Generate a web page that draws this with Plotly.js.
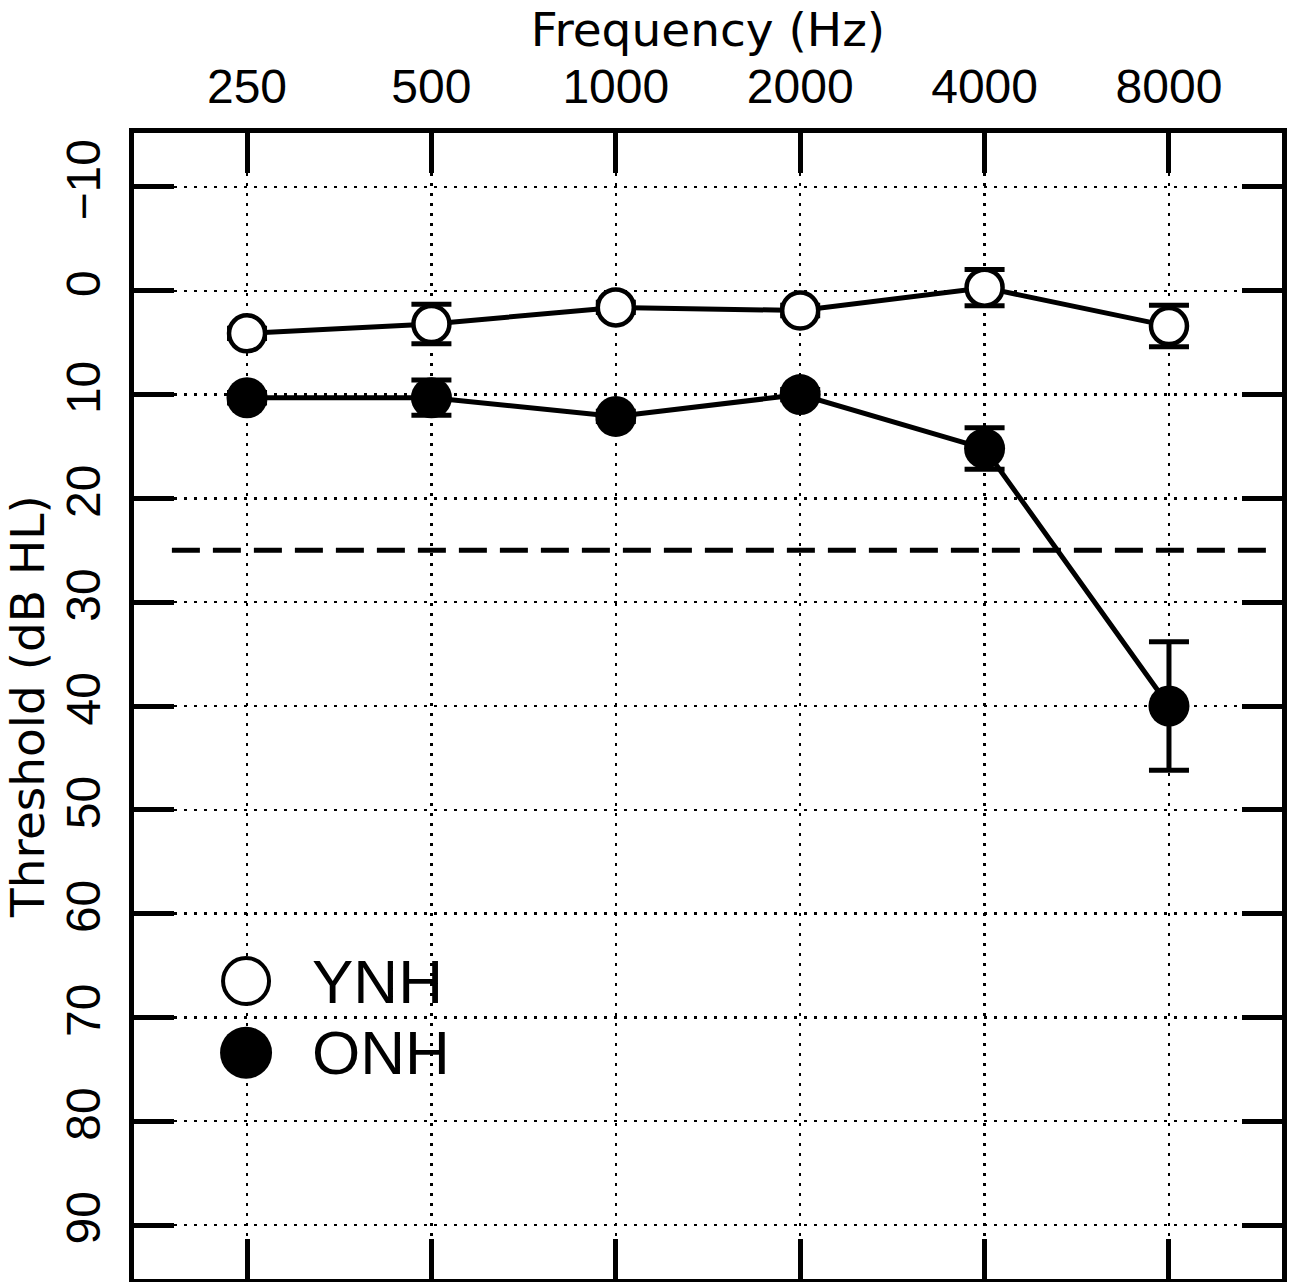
<!DOCTYPE html>
<html>
<head>
<meta charset="utf-8">
<script src="https://cdn.plot.ly/plotly-3.0.1.min.js"></script>
<style>
html,body{margin:0;padding:0;background:#ffffff;}
#chart{width:1291px;height:1282px;}
</style>
</head>
<body>
<div id="chart"></div>
<script>
// ---- data ----
const frequencies = [250, 500, 1000, 2000, 4000, 8000];
const freqTickLabels = ['250', '500', '1000', '2000', '4000', '8000'];
const ynhThreshold = [4.1, 3.2, 1.6, 1.9, -0.3, 3.4];
const ynhError = [0.5, 1.9, 0.5, 0.5, 1.75, 2.0];
const onhThreshold = [10.3, 10.3, 12.1, 10.0, 15.2, 40.0];
const onhError = [0.5, 1.7, 0.5, 0.5, 2.0, 6.2];
const thresholdTicks = [-10, 0, 10, 20, 30, 40, 50, 60, 70, 80, 90];
const normalLimit = 25;
const groupNames = ['YNH', 'ONH'];
const legendRows = [66.5, 73.4];

// ---- drawing ----
const octave = Math.log10(2);
const pad = 0.613 * octave;
const xRange = [Math.log10(frequencies[0]) - pad, Math.log10(frequencies[frequencies.length - 1]) + pad];

const tickFont = {family: 'Liberation Sans, Arial, sans-serif', size: 48, color: '#000'};
const titleFont = {family: 'DejaVu Sans, sans-serif', size: 47, color: '#000'};

const commonAxis = {
  ticks: 'inside', ticklen: 40, tickwidth: 5, tickcolor: '#000',
  showline: true, linewidth: 5, linecolor: '#000', mirror: 'allticks',
  showgrid: true, gridcolor: '#000', gridwidth: 2.5, griddash: '2.5px,7.5px',
  zeroline: false, tickfont: tickFont, automargin: false
};

const traces = [
  {
    name: groupNames[0], x: frequencies, y: ynhThreshold, type: 'scatter', mode: 'lines+markers',
    line: {color: '#000', width: 5},
    marker: {symbol: 'circle', size: 36, color: '#fff', line: {color: '#000', width: 4.5}},
    error_y: {type: 'data', array: ynhError, visible: true, color: '#000', thickness: 5, width: 20},
    showlegend: false
  },
  {
    name: groupNames[1], x: frequencies, y: onhThreshold, type: 'scatter', mode: 'lines+markers',
    line: {color: '#000', width: 5},
    marker: {symbol: 'circle', size: 41, color: '#000', line: {color: '#000', width: 0}},
    error_y: {type: 'data', array: onhError, visible: true, color: '#000', thickness: 5, width: 20},
    showlegend: false
  }
];

const legendX = 0.0976;
const legendTextX = 0.153;

const layout = {
  width: 1291, height: 1282,
  margin: {l: 134, r: 9, t: 133, b: 3, pad: 0},
  paper_bgcolor: '#fff', plot_bgcolor: '#fff',
  showlegend: false,
  xaxis: Object.assign({}, commonAxis, {
    type: 'log', side: 'top', range: xRange,
    tickmode: 'array', tickvals: frequencies, ticktext: freqTickLabels,
    ticklabelstandoff: 6,
    title: {text: 'Frequency (Hz)', font: titleFont, standoff: 0}
  }),
  yaxis: Object.assign({}, commonAxis, {
    range: [95.2, -15.2], tickmode: 'array', tickvals: thresholdTicks, tickangle: -90,
    ticklabelstandoff: 10,
    title: {text: 'Threshold (dB HL)', font: titleFont, standoff: 0}
  }),
  shapes: [
    {type: 'line', xref: 'paper', yref: 'y', x0: 0.033, x1: 0.9895, y0: normalLimit, y1: normalLimit,
     line: {color: '#000', width: 5, dash: '28px,13px'}},
    {type: 'circle', xref: 'paper', yref: 'y', xsizemode: 'pixel', ysizemode: 'pixel',
     xanchor: legendX, yanchor: legendRows[0], x0: -23, x1: 23, y0: -23, y1: 23,
     fillcolor: '#fff', line: {color: '#000', width: 4}},
    {type: 'circle', xref: 'paper', yref: 'y', xsizemode: 'pixel', ysizemode: 'pixel',
     xanchor: legendX, yanchor: legendRows[1], x0: -26, x1: 26, y0: -26, y1: 26,
     fillcolor: '#000', line: {color: '#000', width: 0}}
  ],
  annotations: groupNames.map((g, i) => ({
    text: g, xref: 'paper', yref: 'y', x: legendTextX, y: legendRows[i],
    xanchor: 'left', yanchor: 'middle', showarrow: false,
    font: {family: 'Liberation Sans, sans-serif', size: 62, color: '#000'}
  }))
};

Plotly.newPlot('chart', traces, layout, {displayModeBar: false, staticPlot: true});
</script>
</body>
</html>
